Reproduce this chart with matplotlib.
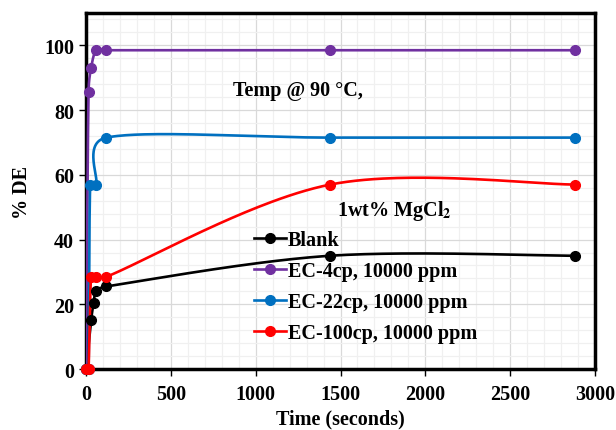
"""Temp @ 90 °C, 1wt% MgCl2: % DE против времени, сглаженные линии как в Excel."""
import numpy as np
import matplotlib
matplotlib.use("Agg")
import matplotlib.pyplot as plt
from matplotlib.ticker import MultipleLocator

t_blank = [0, 30, 45, 60, 120, 1440, 2880]
de_blank = [0, 15, 20.5, 24, 25.5, 35, 35]

t_ec4 = [0, 15, 30, 60, 120, 1440, 2880]
de_ec4 = [0, 85.5, 93, 98.5, 98.5, 98.5, 98.5]

t_ec22 = [0, 15, 25, 60, 120, 1440, 2880]
de_ec22 = [0, 0, 57, 57, 71.5, 71.5, 71.5]

t_ec100 = [0, 15, 30, 60, 120, 1440, 2880]
de_ec100 = [0, 0, 28.5, 28.5, 28.5, 57, 57]

labels = ["Blank", "EC-4cp, 10000 ppm", "EC-22cp, 10000 ppm", "EC-100cp, 10000 ppm"]
colors = ["black", "#7030A0", "#0070C0", "#FF0000"]

XMAX, YMAX = 3000, 110
PX_W, PX_H = 510, 356   # размер области осей в пикселях, для сглаживания
FS = 14.5


def smooth(x, y, n=60):
    # Безье с контрольными точками Catmull-Rom в экранных координатах,
    # ручки ограничены половиной хорды, чтобы не было петель
    sc = np.array([PX_W / XMAX, PX_H / YMAX])
    p = np.column_stack([x, y]).astype(float) * sc
    out = [p[0]]
    for i in range(len(p) - 1):
        p0 = p[i - 1] if i > 0 else p[i]
        p3 = p[i + 2] if i + 2 < len(p) else p[i + 1]
        chord = np.linalg.norm(p[i + 1] - p[i])
        h1 = (p[i + 1] - p0) / 6
        h2 = (p3 - p[i]) / 6
        for h in (h1, h2):
            ln = np.linalg.norm(h)
            if ln > chord / 2:
                h *= chord / 2 / ln
        c1 = p[i] + h1
        c2 = p[i + 1] - h2
        s = np.linspace(0, 1, n)[1:, None]
        seg = ((1 - s) ** 3 * p[i] + 3 * (1 - s) ** 2 * s * c1
               + 3 * (1 - s) * s ** 2 * c2 + s ** 3 * p[i + 1])
        out.extend(seg)
    out = np.array(out) / sc
    return out[:, 0], out[:, 1]


plt.rcParams["font.family"] = ["Liberation Serif", "DejaVu Serif"]
plt.rcParams["font.weight"] = "bold"
plt.rcParams["mathtext.fontset"] = "stix"

fig = plt.figure(figsize=(6.16, 4.31), dpi=100)
ax = fig.add_axes([0.1396, 0.1415, 0.8264, 0.826])

series = [(t_blank, de_blank), (t_ec4, de_ec4), (t_ec22, de_ec22), (t_ec100, de_ec100)]
for (t, d), lab, c in zip(series, labels, colors):
    sx, sy = smooth(t, d)
    ax.plot(sx, sy, color=c, lw=1.9, zorder=3)
    ax.plot(t, d, "o", color=c, ms=7, zorder=4, clip_on=False)
    ax.plot([], [], "-o", color=c, lw=1.9, ms=7, label=lab)

ax.set_xlim(0, XMAX)
ax.set_ylim(0, YMAX)
ax.set_yticks(np.arange(0, 101, 20))
ax.xaxis.set_major_locator(MultipleLocator(500))
ax.xaxis.set_minor_locator(MultipleLocator(100))
ax.yaxis.set_minor_locator(MultipleLocator(4))
ax.grid(which="major", color="#d9d9d9", lw=0.9)
ax.grid(which="minor", color="#f0f0f0", lw=0.9)
ax.set_axisbelow(True)
ax.tick_params(which="major", direction="out", length=5, width=1, labelsize=FS)
ax.tick_params(axis="x", which="major", pad=6)
ax.tick_params(which="minor", length=0)
for sp in ax.spines.values():
    sp.set_linewidth(2.5)

ax.set_xlabel("Time (seconds)", fontsize=FS, fontweight="bold", labelpad=3)
ax.set_ylabel("% DE", fontsize=FS, fontweight="bold", labelpad=9)

ax.text(865, 86.1, "Temp @ 90 °C,", fontsize=FS, fontweight="bold", va="center")
ax.text(1482, 49.1, "1wt% MgCl$_\\mathbf{2}$", fontsize=FS, fontweight="bold", va="center")

ax.legend(loc="upper left", bbox_to_anchor=(0.331, 0.39), frameon=False,
          fontsize=FS, handlelength=1.55, handletextpad=0.1, labelspacing=0.55,
          borderaxespad=0, borderpad=0)

fig.savefig("out.png", dpi=100)
